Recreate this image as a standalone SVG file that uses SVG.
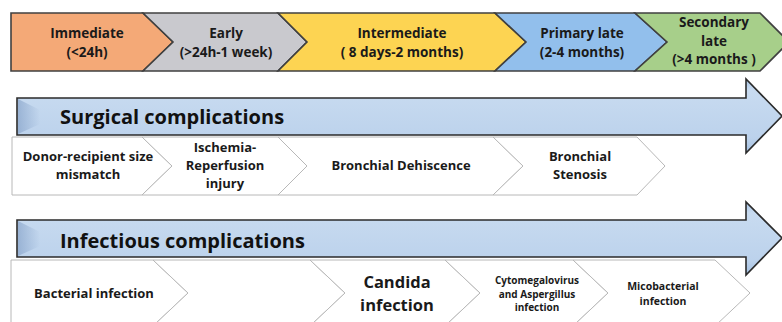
<svg xmlns="http://www.w3.org/2000/svg" width="782" height="322" viewBox="0 0 782 322">
<defs>
<linearGradient id="blue" x1="0" y1="0" x2="0" y2="1">
<stop offset="0" stop-color="#a9c4e4"/>
<stop offset="0.15" stop-color="#c8dbf0"/>
<stop offset="0.8" stop-color="#bcd2ec"/>
<stop offset="1" stop-color="#a3bfe0"/>
</linearGradient>
<linearGradient id="bevel" x1="0" y1="0" x2="1" y2="0">
<stop offset="0" stop-color="#7f9cc4"/>
<stop offset="1" stop-color="#7f9cc4" stop-opacity="0"/>
</linearGradient>
</defs>
<style>
.t{font-family:"Open Sans","Liberation Sans",sans-serif;font-weight:bold;fill:#1a1a1a;text-anchor:middle}
.ph{stroke:#404040;stroke-width:1.6;stroke-linejoin:miter}
.w{fill:#ffffff;stroke:#b8b8b8;stroke-width:1}
.arr{fill:url(#blue);stroke:#2b2b2b;stroke-width:1.6}
.h{font-family:"Open Sans","Liberation Sans",sans-serif;font-weight:bold;fill:#111;font-size:20px}
</style>
<rect width="782" height="322" fill="#ffffff"/>

<g id="phase-immediate">
<polygon class="ph" fill="#f4a977" points="11,13 143,13 173,42 143,71 11,71"/>
<text class="t" font-size="13.5" x="87" y="38">Immediate</text>
<text class="t" font-size="13.5" x="87" y="57">(&lt;24h)</text>
</g>
<g id="phase-early">
<polygon class="ph" fill="#c9c9ce" points="143,13 278,13 307,42 278,71 143,71 173,42"/>
<text class="t" font-size="13.5" x="226" y="38">Early</text>
<text class="t" font-size="13.5" x="226" y="57">(&gt;24h-1 week)</text>
</g>
<g id="phase-intermediate">
<polygon class="ph" fill="#fdd452" points="278,13 495,13 526,42 495,71 278,71 307,42"/>
<text class="t" font-size="13.5" x="402" y="38">Intermediate</text>
<text class="t" font-size="13.5" x="402" y="57">( 8 days-2 months)</text>
</g>
<g id="phase-primary-late">
<polygon class="ph" fill="#92bfec" points="495,13 635,13 667,42 635,71 495,71 526,42"/>
<text class="t" font-size="13.5" x="582" y="38">Primary late</text>
<text class="t" font-size="13.5" x="582" y="57">(2-4 months)</text>
</g>
<g id="phase-secondary-late">
<polygon class="ph" fill="#a7cf8a" points="635,13 760,13 789,42 760,71 635,71 667,42"/>
<text class="t" font-size="13.5" x="714" y="27">Secondary</text>
<text class="t" font-size="13.5" x="714" y="45.5">late</text>
<text class="t" font-size="13.5" x="714" y="64">(&gt;4 months )</text>
</g>

<g id="connectors">
<g id="surgical-arrow">
<polygon class="arr" points="17,98 746,98 746,79 782,116 746,153 746,135 17,135"/>
<polygon fill="url(#bevel)" opacity="0.6" points="18,99 40,110 40,124 18,134"/>
</g>
<g id="infectious-arrow">
<polygon class="arr" points="17,220 746,220 746,202 782,238 746,275 746,257 17,257"/>
<polygon fill="url(#bevel)" opacity="0.6" points="18,221 40,232 40,246 18,256"/>
</g>
</g>

<text class="h" x="60" y="124">Surgical complications</text>
<text class="h" x="60" y="248">Infectious complications</text>

<g id="surg-1">
<polygon class="w" points="12,137 142,137 172,166 142,195 12,195"/>
<text class="t" font-size="13" x="88" y="161">Donor-recipient  size</text>
<text class="t" font-size="13" x="88" y="179">mismatch</text>
</g>
<g id="surg-2">
<polygon class="w" points="142,137 278,137 307,166 278,195 142,195 172,166"/>
<text class="t" font-size="13" x="225" y="152">Ischemia-</text>
<text class="t" font-size="13" x="225" y="170">Reperfusion</text>
<text class="t" font-size="13" x="225" y="188">injury</text>
</g>
<g id="surg-3">
<polygon class="w" points="278,137 493,137 523,166 493,195 278,195 307,166"/>
<text class="t" font-size="13" x="401" y="170">Bronchial  Dehiscence</text>
</g>
<g id="surg-4">
<polygon class="w" points="493,137 637,137 665,166 637,195 493,195 523,166"/>
<text class="t" font-size="13" x="580" y="161">Bronchial</text>
<text class="t" font-size="13" x="580" y="179">Stenosis</text>
</g>

<g id="inf-1">
<polygon class="w" points="11,260 153,260 188,293 153,326 11,326"/>
<text class="t" font-size="13" x="94" y="298">Bacterial  infection</text>
</g>
<g id="inf-2">
<polygon class="w" points="153,260 310,260 345,293 310,326 153,326 188,293"/>
</g>
<g id="inf-3">
<polygon class="w" points="310,260 445,260 480,293 445,326 310,326 345,293"/>
<text class="t" font-size="16.5" x="397" y="288">Candida</text>
<text class="t" font-size="16.5" x="397" y="311">infection</text>
</g>
<g id="inf-4">
<polygon class="w" points="445,260 573,260 608,293 573,326 445,326 480,293"/>
<text class="t" font-size="10" x="537" y="284">Cytomegalovirus</text>
<text class="t" font-size="10" x="537" y="297.6">and Aspergillus</text>
<text class="t" font-size="10" x="537" y="311.2">infection</text>
</g>
<g id="inf-5">
<polygon class="w" points="573,260 715,260 750,293 715,326 573,326 608,293"/>
<text class="t" font-size="10.5" x="663" y="290">Micobacterial</text>
<text class="t" font-size="10.5" x="663" y="304.5">infection</text>
</g>
</svg>
